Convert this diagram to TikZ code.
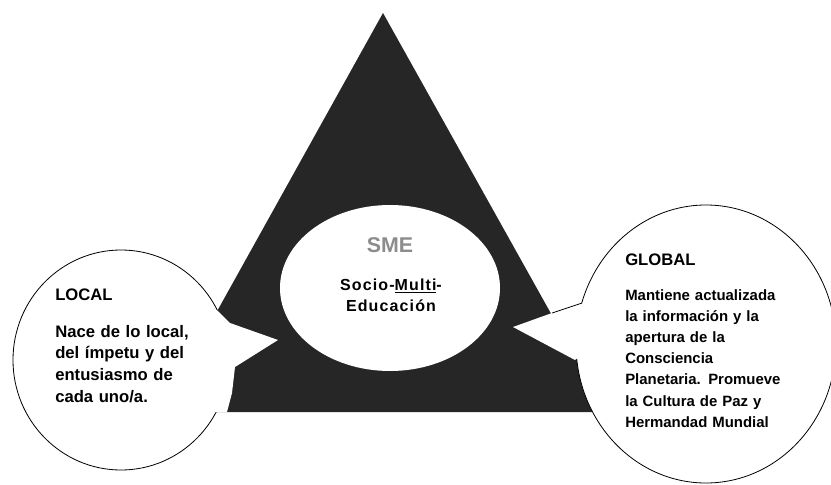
\documentclass[tikz,border=0pt]{standalone}
\usepackage{fontspec}
\setmainfont{Liberation Sans}
\usetikzlibrary{shapes.geometric}
\definecolor{pyramid}{HTML}{262626}
\definecolor{smegray}{HTML}{8C8C8C}

\begin{document}
\begin{tikzpicture}[x=0.75pt, y=-0.75pt,
  bubble/.style={ellipse, draw, fill=white, line width=0.6pt, inner sep=0pt},
  head/.style={anchor=base west, inner sep=0pt, font=\bfseries\fontsize{12.5}{15}\selectfont},
  body/.style={anchor=base west, inner sep=0pt, align=left, text width=150pt,
    font=\bfseries\fontsize{12.5}{16.3}\selectfont}]
  \useasboundingbox (0,0) rectangle (831,485);
  % pyramid
  \fill[pyramid] (383,13) -- (606,412) -- (161,412) -- cycle;
  \node[ellipse, fill=white, inner sep=0pt, minimum width=165pt, minimum height=124.5pt] (sme) at (390,288) {};
  % bubbles
  \node[bubble, minimum width=162pt, minimum height=165pt] (local) at (121,360) {};
  \fill[white] (217,310) -- (230,323) -- (278,340) -- (235,367) -- (232,393) -- (227,412)
    -- (200,412) -- (200,310) -- cycle;
  \node[bubble, minimum width=195pt, minimum height=208.5pt] (global) at (706,344) {};
  \fill[white] (582,303) -- (552,313) -- (513,327) -- (575,360) -- (600,340) -- cycle;
  \draw[line width=0.6pt] (582,303) -- (552,313);
  % texts
  \node[text=smegray, inner sep=0pt, anchor=base, font=\bfseries\fontsize{16}{18}\selectfont] (smelabel) at (390,252) {SME};
  \node[inner sep=0pt, anchor=base, align=center, text width=120pt,
    font=\bfseries\fontsize{12}{15.8}\selectfont\addfontfeature{LetterSpace=7}] (smetext) at (391,290)
    {Socio-\underline{Multi}-\\Educación};
  \node[head] (localhead) at (55,300) {LOCAL};
  \node[body] (localtext) at (55,337) {Nace de lo local,\\ del ímpetu y del\\ entusiasmo de\\ cada uno/a.};
  \node[head] (globalhead) at (625,265) {GLOBAL};
  \node[body, font=\bfseries\fontsize{11.2}{15.9}\selectfont] (globaltext) at (625,300)
    {Mantiene actualizada\\ la información y la\\ apertura de la\\ Consciencia\\ Planetaria. Promueve\\ la Cultura de Paz y\\ Hermandad Mundial};
\end{tikzpicture}
\end{document}
